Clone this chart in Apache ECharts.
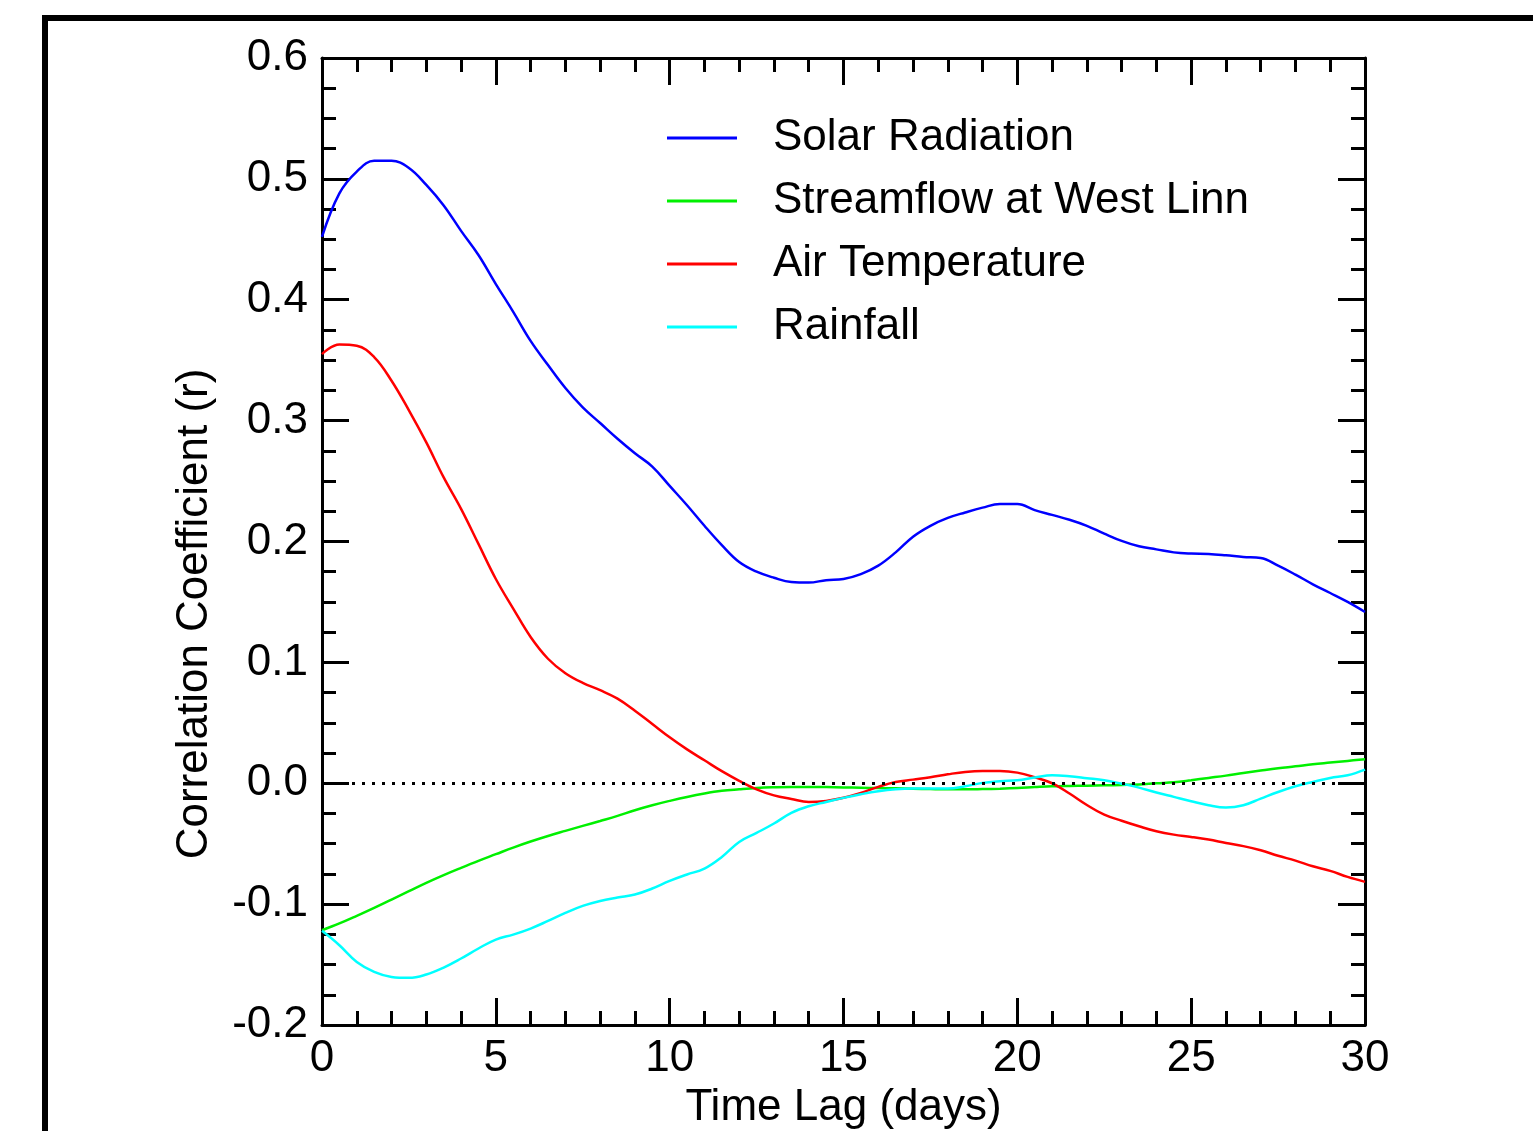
<!DOCTYPE html>
<html>
<head>
<meta charset="utf-8">
<script src="https://cdn.jsdelivr.net/npm/echarts@6/dist/echarts.min.js"></script>
<style>
  html, body { margin: 0; padding: 0; background: #fff; }
  #chart { width: 1533px; height: 1131px; }
</style>
</head>
<body>
<div id="chart"></div>
<script>
const lags = [0, 0.5, 1, 1.5, 2, 2.5, 3, 3.5, 4, 4.5, 5, 5.5, 6, 6.5, 7, 7.5, 8, 8.5, 9, 9.5,
  10, 10.5, 11, 11.5, 12, 12.5, 13, 13.5, 14, 14.5, 15, 15.5, 16, 16.5, 17, 17.5, 18, 18.5, 19, 19.5,
  20, 20.5, 21, 21.5, 22, 22.5, 23, 23.5, 24, 24.5, 25, 25.5, 26, 26.5, 27, 27.5, 28, 28.5, 29, 29.5, 30];

const solar = [0.452, 0.488, 0.506, 0.515, 0.515, 0.509, 0.495, 0.478, 0.457, 0.437,
  0.413, 0.390, 0.366, 0.346, 0.327, 0.311, 0.298, 0.285, 0.273, 0.262,
  0.246, 0.230, 0.213, 0.197, 0.183, 0.175, 0.170, 0.1665, 0.166, 0.168,
  0.169, 0.173, 0.180, 0.191, 0.204, 0.213, 0.2195, 0.224, 0.228, 0.231,
  0.231, 0.226, 0.222, 0.218, 0.213, 0.2065, 0.2005, 0.196, 0.1935, 0.191,
  0.190, 0.1897, 0.1886, 0.1872, 0.1863, 0.180, 0.1726, 0.1646, 0.1574, 0.150, 0.1417];

const streamflow = [-0.1216, -0.116, -0.1097, -0.1031, -0.0962, -0.0893, -0.0824, -0.076, -0.070, -0.0642,
  -0.0587, -0.0532, -0.0482, -0.0436, -0.0394, -0.0353, -0.0312, -0.027, -0.0223, -0.0182,
  -0.0146, -0.0113, -0.0085, -0.0063, -0.005, -0.0039, -0.0033, -0.003, -0.003, -0.0032,
  -0.0035, -0.0037, -0.004, -0.0042, -0.0045, -0.0048, -0.005, -0.005, -0.0048, -0.0045,
  -0.004, -0.0032, -0.0025, -0.0022, -0.002, -0.0017, -0.0014, -0.001, 0.0, 0.0008,
  0.0025, 0.0044, 0.0063, 0.0085, 0.0105, 0.0124, 0.014, 0.0157, 0.0171, 0.0185, 0.0198];

const airTemp = [0.355, 0.363, 0.362, 0.3526, 0.333, 0.3085, 0.282, 0.253, 0.227, 0.198,
  0.169, 0.1445, 0.121, 0.103, 0.091, 0.083, 0.077, 0.070, 0.060, 0.049,
  0.038, 0.028, 0.019, 0.010, 0.002, -0.005, -0.010, -0.013, -0.0155, -0.0146,
  -0.012, -0.008, -0.003, 0.001, 0.003, 0.005, 0.0074, 0.0094, 0.0102, 0.0102,
  0.0088, 0.005, 0.000, -0.0085, -0.018, -0.026, -0.031, -0.0356, -0.0397, -0.0425,
  -0.0444, -0.0466, -0.0494, -0.052, -0.0554, -0.060, -0.064, -0.0687, -0.0725, -0.0775, -0.0816];

const rainfall = [-0.1221, -0.134, -0.1478, -0.156, -0.1602, -0.161, -0.1582, -0.1525, -0.145, -0.1367,
  -0.1293, -0.1252, -0.1202, -0.1139, -0.1073, -0.1015, -0.0974, -0.0946, -0.0921, -0.0871,
  -0.0808, -0.0755, -0.0706, -0.061, -0.0486, -0.0411, -0.0333, -0.0245, -0.019, -0.0155,
  -0.0121, -0.0091, -0.0066, -0.005, -0.0044, -0.0044, -0.0044, -0.0025, 0.0003, 0.0017,
  0.0025, 0.0047, 0.0066, 0.0058, 0.0042, 0.0025, -0.0004, -0.0036, -0.0077, -0.0113,
  -0.0149, -0.0182, -0.0201, -0.0182, -0.0127, -0.0072, -0.0025, 0.0011, 0.0044, 0.0066, 0.0113];

const seriesNames = ['Solar Radiation', 'Streamflow at West Linn', 'Air Temperature', 'Rainfall'];
const seriesColors = ['#0000ff', '#00f000', '#ff0000', '#00ffff'];
const seriesValues = [solar, streamflow, airTemp, rainfall];

const FONT = "'Liberation Sans', Arial, sans-serif";

const chart = echarts.init(document.getElementById('chart'));

function xAxisDef(pos, showLabel) {
  return {
    type: 'value',
    position: pos,
    min: 0,
    max: 30,
    interval: 5,
    name: showLabel ? 'Time Lag (days)' : '',
    nameLocation: 'middle',
    nameGap: 60,
    nameTextStyle: { fontFamily: FONT, fontSize: 44, color: '#000', lineHeight: 44 },
    axisLine: { show: true, onZero: false, lineStyle: { color: '#000', width: 3 } },
    axisTick: { show: true, inside: true, length: 27, lineStyle: { color: '#000', width: 3 } },
    minorTick: { show: true, splitNumber: 5, length: 14, lineStyle: { color: '#000', width: 3 } },
    axisLabel: {
      show: showLabel, margin: 12, color: '#000', fontFamily: FONT, fontSize: 44, lineHeight: 44
    },
    splitLine: { show: false }
  };
}

function yAxisDef(pos, showLabel) {
  return {
    type: 'value',
    position: pos,
    min: -0.2,
    max: 0.6,
    interval: 0.1,
    axisLine: { show: true, onZero: false, lineStyle: { color: '#000', width: 3 } },
    axisTick: { show: true, inside: true, length: 27, lineStyle: { color: '#000', width: 3 } },
    minorTick: { show: true, splitNumber: 4, length: 14, lineStyle: { color: '#000', width: 3 } },
    axisLabel: {
      show: showLabel, margin: 14, color: '#000', fontFamily: FONT, fontSize: 44,
      lineHeight: 44, padding: [6, 0, 0, 0],
      formatter: v => v.toFixed(1)
    },
    splitLine: { show: false }
  };
}

const lineSeries = seriesNames.map((name, k) => ({
  name: name,
  type: 'line',
  xAxisIndex: 0,
  yAxisIndex: 0,
  data: lags.map((x, i) => [x, seriesValues[k][i]]),
  smooth: 0.4,
  showSymbol: false,
  symbol: 'none',
  lineStyle: { color: seriesColors[k], width: 2.5 },
  itemStyle: { color: seriesColors[k] },
  z: 3
}));

// dotted zero reference line
lineSeries.unshift({
  name: 'zero',
  type: 'line',
  data: [],
  markLine: {
    silent: true,
    symbol: 'none',
    label: { show: false },
    lineStyle: { color: '#000', type: [3, 7], width: 3 },
    data: [{ yAxis: 0 }]
  }
});

chart.setOption({
  animation: false,
  backgroundColor: '#fff',
  grid: { left: 322, top: 58, right: 168, bottom: 106, containLabel: false, outerBoundsMode: 'none' },
  xAxis: [xAxisDef('bottom', true), xAxisDef('top', false)],
  yAxis: [yAxisDef('left', true), yAxisDef('right', false)],
  legend: {
    data: seriesNames,
    orient: 'vertical',
    left: 662,
    top: 111,
    itemWidth: 70,
    itemHeight: 3,
    itemGap: 19,
    icon: 'rect',
    textStyle: {
      fontFamily: FONT, fontSize: 44, color: '#000', lineHeight: 44,
      padding: [0, 0, 0, 31]
    },
    selectedMode: false
  },
  graphic: [
    {
      type: 'rect',
      shape: { x: 45, y: 18, width: 2000, height: 2000 },
      style: { fill: 'none', stroke: '#000', lineWidth: 6 },
      silent: true
    },
    {
      type: 'text',
      x: 195,
      y: 614,
      rotation: Math.PI / 2,
      style: {
        text: 'Correlation Coefficient (r)',
        font: "44px " + FONT,
        fill: '#000',
        textAlign: 'center',
        textVerticalAlign: 'middle'
      },
      silent: true
    }
  ],
  series: lineSeries
});
</script>
</body>
</html>
